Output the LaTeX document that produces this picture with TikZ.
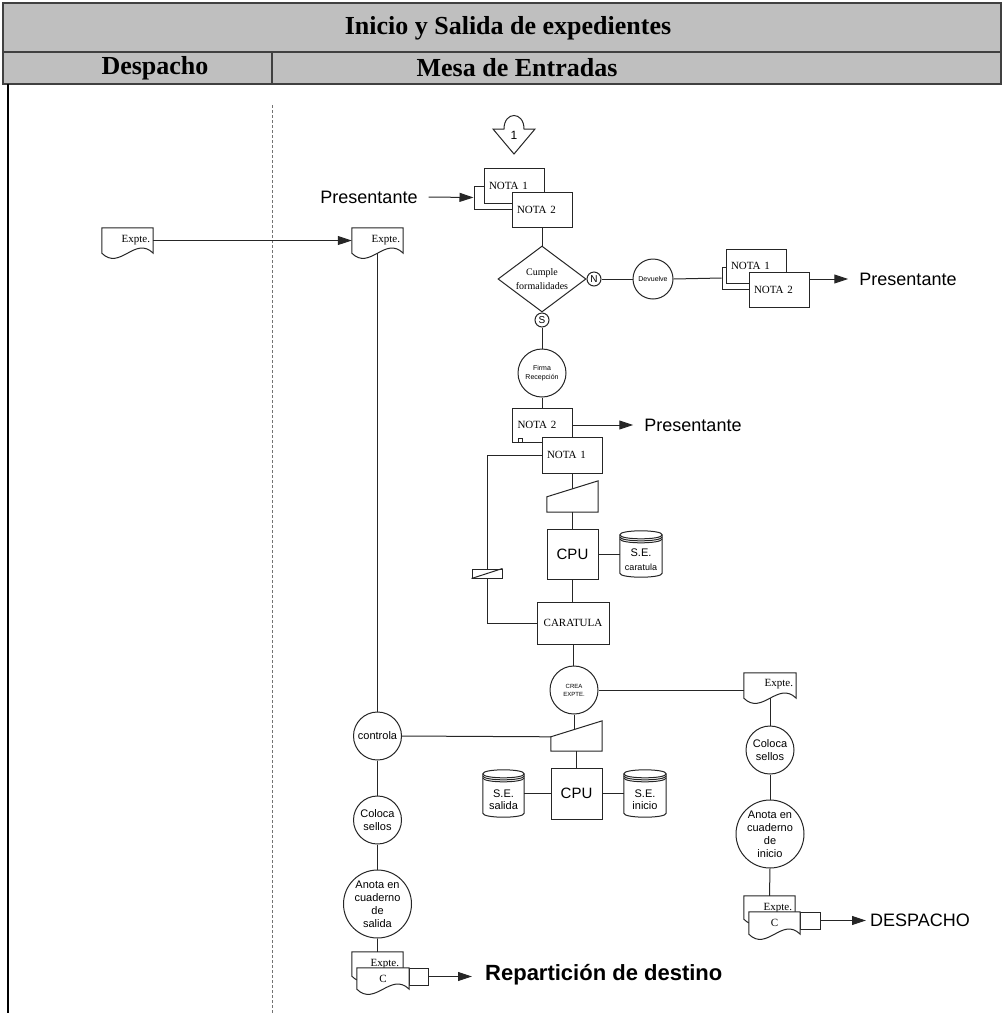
\documentclass[tikz,border=0pt]{standalone}
\usepackage{fontspec}
\setmainfont{Liberation Serif}
\setsansfont{Liberation Sans}
\usetikzlibrary{arrows.meta,calc,shapes.geometric}

\newcommand{\fsz}[2]{\fontsize{#1}{#2}\selectfont}

\tikzset{
  ln/.style={line width=1pt, draw=black!85},
  arr/.style={ln, -{Triangle[length=14pt,width=9pt]}},
  nbox/.style={ln, fill=white, rectangle, text width=50pt, inner xsep=5pt,
    inner ysep=0pt, minimum height=35pt, align=left, font=\fsz{11}{13}},
  proc/.style={ln, fill=white, circle, inner sep=0pt, align=center,
    font=\sffamily\fsz{11}{13}},
  sq/.style={ln, fill=white, rectangle, inner sep=0pt},
  geo/.style={draw=none, rectangle, inner sep=0pt},
  big/.style={font=\sffamily\fsz{18}{20}, inner xsep=11pt, inner ysep=0pt},
  hdr/.style={line width=2pt, draw=black!75},
  doctxt/.style={font=\fsz{11}{12}, inner sep=0pt},
}

% document symbol with a wavy lower edge, drawn on a geometry node
\newcommand{\docshape}[1]{%
  \draw[ln, fill=white] (#1.north west) -- (#1.north east) -- (#1.south east)
    .. controls ($(#1.south east)!0.35!(#1.south west)+(0,-18)$)
           and ($(#1.south east)!0.65!(#1.south west)+(0,18)$) .. (#1.south west) -- cycle;}

% disk storage symbol
\newcommand{\cylshape}[1]{%
  \draw[ln, fill=white] ($(#1.north west)+(0,4)$) -- ($(#1.south west)+(0,-4)$)
    .. controls ($(#1.south west)+(0,1.33)$) and ($(#1.south east)+(0,1.33)$) .. ($(#1.south east)+(0,-4)$)
    -- ($(#1.north east)+(0,4)$)
    .. controls ($(#1.north east)+(0,-1.33)$) and ($(#1.north west)+(0,-1.33)$) .. cycle;
  \foreach \k in {4,6,8}{%
    \draw[ln] ($(#1.north west)+(0,\k)$) .. controls ($(#1.north west)+(0,{\k+5.33})$)
      and ($(#1.north east)+(0,{\k+5.33})$) .. ($(#1.north east)+(0,\k)$);}}

% manual input symbol (slanted top)
\newcommand{\trapshape}[1]{%
  \draw[ln, fill=white] ($(#1.north west)+(0,16)$) -- (#1.north east)
    -- (#1.south east) -- (#1.south west) -- cycle;}

\begin{document}
\begin{tikzpicture}[x=1pt,y=-1pt]
\useasboundingbox (0,0) rectangle (1003,1013);

% ---- header ----
\fill[black!25] (3,3) rectangle (1001,84);
\draw[hdr] (3,3) rectangle (1001,84);
\draw[hdr] (3,52) -- (1001,52);
\draw[hdr] (272,52) -- (272,84);
\node[font=\bfseries\fsz{26}{28}] (title) at (508,28) {Inicio y Salida de expedientes};
\node[font=\bfseries\fsz{26}{28}] (laneA) at (155,68) {Despacho};
\node[font=\bfseries\fsz{26}{28}] (laneB) at (517,68) {Mesa de Entradas};

% ---- body frame and lane separator ----
\draw[line width=2pt] (8,84) -- (8,1013);
\draw[black!55, line width=1pt, dash pattern=on 3pt off 2pt] (272,105) -- (272,1013);

% ---- off-page connector ----
\node[geo, minimum width=42pt, minimum height=40pt] (conn) at (514,134) {};
\draw[ln, fill=white] (493,129) -- (504,129) .. controls (504,111) and (524,111) .. (524,129)
  -- (535,129) -- (514,154) -- cycle;
\node[font=\sffamily\fsz{12}{13}, inner sep=0pt] (connt) at (514,135) {1};

% ---- incoming notes ----
\node[sq, minimum width=48pt, minimum height=23pt] (brA) at (498,197.5) {};
\node[nbox] (notaA1) at (514,185.5) {NOTA 1};
\node[nbox] (notaA2) at (542,209.5) {NOTA 2};
\node[big] (presA) at (369,197) {Presentante};
\draw[arr] (presA.east) -- (brA.west);

% ---- check ----
\node[ln, diamond, fill=white, minimum width=88pt, minimum height=66pt, inner sep=0pt,
      aspect=1.33, align=center, font=\fsz{10}{13.3}] (cumple) at (542,279) {Cumple\\formalidades};
\draw[ln] (notaA2.south) -- (cumple.north);
\node[proc, minimum size=14pt, font=\sffamily\fsz{10}{11}] (nc) at (594,279) {N};
\node[proc, minimum size=14pt, font=\sffamily\fsz{10}{11}] (sc) at (542,320) {S};
\node[proc, minimum size=40pt, font=\sffamily\fsz{7}{8}] (devuelve) at (653,279) {Devuelve};
\draw[ln] (nc.east) -- (devuelve.west);

\node[sq, minimum width=38pt, minimum height=22pt] (brB) at (741,278) {};
\node[nbox, minimum height=34pt] (notaB1) at (756,266) {NOTA 1};
\node[nbox] (notaB2) at (779,289.5) {NOTA 2};
\draw[ln] (devuelve.east) -- (brB.west);
\node[big] (presB) at (908,279) {Presentante};
\draw[arr] (notaB2.east |- devuelve) -- (presB.west);

% ---- reception ----
\node[proc, minimum size=48pt, font=\sffamily\fsz{7}{8.7}] (firma) at (542,373) {Firma\\Recepción};
\draw[ln] (sc.south) -- (firma.north);
\node[nbox, minimum height=34pt] (notaC2) at (542.5,425) {NOTA 2};
\node[sq, minimum size=4pt] (tick) at (520,440) {};
\node[nbox, minimum height=36pt] (notaC1) at (572,455) {NOTA 1};
\draw[ln] (firma.south) -- (firma.south |- notaC2.north);
\node[big] (presC) at (693,425) {Presentante};
\draw[arr] (notaC2.east) -- (presC.west);

% ---- cover sheet ----
\node[geo, minimum width=51pt, minimum height=31pt] (trap1) at (572.5,496.5) {};
\trapshape{trap1}
\coordinate (trap1in) at ($(trap1.north)+(0,8)$);
\draw[ln] (notaC1.south) -- (notaC1.south |- trap1in);
\node[sq, minimum width=51pt, minimum height=50pt, font=\sffamily\fsz{15}{16}] (cpu1) at (572.5,554) {CPU};
\draw[ln] (trap1.south) -- (cpu1.north);
\node[geo, minimum width=42pt, minimum height=46pt] (seC) at (641,554) {};
\cylshape{seC}
\node[font=\sffamily\fsz{11}{14}, align=center, inner sep=0pt] (seCt) at (641,560) {S.E.\\{\fsz{9}{10}caratula}};
\draw[ln] (cpu1.east) -- (seC.west);
\node[sq, minimum width=72pt, minimum height=42pt, font=\fsz{11}{12}] (caratula) at (573,623) {CARATULA};
\draw[ln] (cpu1.south) -- (cpu1.south |- caratula.north);
\node[sq, minimum width=30pt, minimum height=9pt] (slash) at (487,573.5) {};
\draw[ln] (slash.south west) -- (slash.north east);
\draw[ln] (notaC1.west) -| (slash.north);
\draw[ln] (slash.south) |- (caratula.west);

% ---- file creation ----
\node[proc, minimum size=48pt, font=\sffamily\fsz{6}{8}] (crea) at (574,690) {CREA\\EXPTE.};
\draw[ln] (caratula.south) -- (caratula.south |- crea.north);
\node[geo, minimum width=52pt, minimum height=25pt] (exC) at (770,685.5) {};
\docshape{exC}
\node[doctxt, anchor=north east] (exCt) at ($(exC.north east)+(-3,6)$) {Expte.};
\draw[ln] (crea.east) -- (crea.east -| exC.west);

\node[geo, minimum width=51pt, minimum height=30pt] (trap2) at (576.5,736) {};
\trapshape{trap2}
\coordinate (trap2in) at ($(trap2.north)+(0,8)$);
\draw[ln] (crea.south) -- (crea.south |- trap2in);
\node[sq, minimum width=51pt, minimum height=51pt, font=\sffamily\fsz{15}{16}] (cpu2) at (576.5,793.5) {CPU};
\draw[ln] (trap2.south) -- (cpu2.north);
\node[geo, minimum width=41pt, minimum height=47pt] (seS) at (503.5,793.5) {};
\cylshape{seS}
\node[font=\sffamily\fsz{11}{12.5}, align=center, inner sep=0pt] (seSt) at (503.5,799.5) {S.E.\\salida};
\node[geo, minimum width=42pt, minimum height=47pt] (seI) at (645,793.5) {};
\cylshape{seI}
\node[font=\sffamily\fsz{11}{12.5}, align=center, inner sep=0pt] (seIt) at (645,799.5) {S.E.\\inicio};
\draw[ln] (seS.east) -- (cpu2.west);
\draw[ln] (cpu2.east) -- (seI.west);

% ---- incoming file from Despacho ----
\node[geo, minimum width=51pt, minimum height=25pt] (exL) at (127.5,240.5) {};
\docshape{exL}
\node[doctxt, anchor=north east] (exLt) at ($(exL.north east)+(-3,7)$) {Expte.};
\node[geo, minimum width=51pt, minimum height=25pt] (exR) at (377.5,240.5) {};
\docshape{exR}
\node[doctxt, anchor=north east] (exRt) at ($(exR.north east)+(-3,7)$) {Expte.};
\draw[arr] (exL.east) -- (exR.west);

% ---- outgoing branch (left column) ----
\node[proc, minimum size=48pt] (controla) at (377.5,736) {controla};
\draw[ln] (exR.south) -- (controla.north);
\draw[ln] (controla.east) -- ($(trap2.north west)+(0,16)$);
\node[proc, minimum size=48pt] (colL) at (377.5,820) {Coloca\\sellos};
\node[proc, minimum size=68pt] (anoL) at (377.5,904) {Anota en\\cuaderno\\de\\salida};
\draw[ln] (controla.south) -- (colL.north);
\draw[ln] (colL.south) -- (anoL.north);
\node[geo, minimum width=51pt, minimum height=24pt] (exBL) at (377.5,964) {};
\docshape{exBL}
\node[doctxt, anchor=north east] (exBLt) at ($(exBL.north east)+(-4,7)$) {Expte.};
\node[sq, minimum width=19pt, minimum height=17pt] (rBL) at (418.5,976.5) {};
\node[geo, minimum width=52pt, minimum height=21pt] (cBL) at (383,978.5) {};
\docshape{cBL}
\node[doctxt] (cBLt) at (cBL) {C};
\draw[ln] (anoL.south) -- (exBL.north);
\node[font=\sffamily\bfseries\fsz{22}{24}, inner xsep=13pt, inner ysep=0pt, anchor=west] (rep) at (472,975) {Repartición de destino};
\draw[arr] (rBL.east) -- (rBL.east -| rep.west);

% ---- new file branch (right column) ----
\node[proc, minimum size=48pt] (colR) at (770,750) {Coloca\\sellos};
\node[proc, minimum size=68pt] (anoR) at (770,834) {Anota en\\cuaderno\\de\\inicio};
\draw[ln] (exC.south) -- (colR.north);
\draw[ln] (colR.south) -- (anoR.north);
\node[geo, minimum width=51pt, minimum height=23pt] (exBR) at (769.5,907.5) {};
\docshape{exBR}
\node[doctxt, anchor=north east] (exBRt) at ($(exBR.north east)+(-3,7)$) {Expte.};
\node[sq, minimum width=20pt, minimum height=17pt] (rBR) at (810,920.5) {};
\node[geo, minimum width=51pt, minimum height=22pt] (cBR) at (774.5,923) {};
\docshape{cBR}
\node[doctxt] (cBRt) at (cBR) {C};
\draw[ln] (anoR.south) -- (exBR.north);
\node[font=\sffamily\fsz{18}{20}, inner xsep=4pt, inner ysep=0pt, anchor=west] (desp) at (866,920) {DESPACHO};
\draw[arr] (rBR.east) -- (rBR.east -| desp.west);

\end{tikzpicture}
\end{document}
